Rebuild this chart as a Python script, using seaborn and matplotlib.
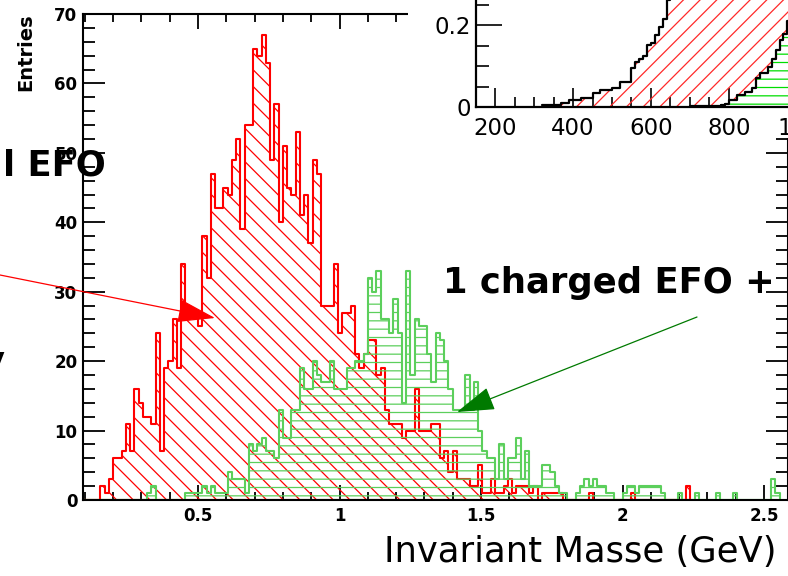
import numpy as np
import matplotlib
matplotlib.use("Agg")
import matplotlib.pyplot as plt
from matplotlib.patches import Rectangle
from matplotlib.ticker import MultipleLocator
import seaborn as sns

# main histogram, 15 MeV bins starting at 0.095 GeV
BIN_START = 0.095
BIN_WIDTH = 0.015

red_counts = [
    0, 0, 0, 0, 2, 1, 3, 6, 6, 7,
    11, 7, 16, 14, 12, 12, 11, 24, 7, 19,
    20, 26, 19, 34, 26, 27, 27, 25, 38, 32,
    47, 42, 42, 45, 44, 49, 52, 39, 54, 54,
    65, 64, 67, 63, 49, 57, 40, 51, 45, 44,
    53, 41, 44, 37, 49, 47, 28, 28, 28, 34,
    24, 27, 27, 28, 21, 19, 21, 23, 23, 18,
    19, 13, 11, 11, 11, 9, 10, 10, 16, 10,
    10, 10, 11, 11, 6, 7, 4, 7, 3, 3,
    3, 2, 2, 5, 1, 1, 3, 1, 1, 2,
    3, 1, 2, 2, 2, 1, 2, 0, 1, 1,
    1, 1, 1, 0, 0, 0, 0, 0, 0, 1,
    0, 0, 0, 0, 0, 0, 0, 0, 0, 1,
    0, 0, 0, 0, 0, 0, 0, 0, 0, 0,
    0, 0, 2,
]

green_counts = [
    0, 0, 0, 0, 0, 0, 0, 0, 0, 0,
    0, 0, 0, 0, 0, 1, 2, 0, 0, 0,
    0, 0, 0, 0, 1, 1, 1, 1, 2, 1,
    2, 1, 1, 1, 4, 3, 3, 3, 1, 8,
    7, 8, 9, 7, 7, 6, 13, 9, 9, 13,
    13, 19, 16, 16, 20, 18, 17, 17, 20, 16,
    16, 16, 19, 19, 20, 20, 21, 32, 30, 33,
    26, 26, 24, 29, 24, 14, 33, 18, 26, 25,
    25, 21, 17, 24, 23, 20, 16, 13, 13, 13,
    18, 13, 17, 10, 7, 6, 6, 3, 8, 3,
    6, 6, 9, 3, 7, 2, 2, 2, 5, 5,
    4, 2, 1, 1, 0, 0, 1, 2, 3, 2,
    3, 2, 2, 1, 1, 0, 0, 1, 2, 2,
    1, 2, 2, 2, 2, 2, 1, 0, 0, 0,
    1, 0, 0, 0, 1, 0, 0, 0, 0, 1,
    0, 0, 0, 1, 0, 0, 0, 0, 0, 0,
    0, 0, 3, 1,
]

mass_ticks = [0.5, 1, 1.5, 2, 2.5]
mass_labels = ["0.5", "1", "1.5", "2", "2.5"]
entry_ticks = [0, 10, 20, 30, 40, 50, 60, 70]
entry_labels = ["0", "10", "20", "30", "40", "50", "60", "70"]

# inset (mass in MeV)
inset_red_edges = [320, 330, 340, 350, 360, 370, 380, 390, 400, 410,
                   420, 430, 440, 450, 460, 470, 480, 490, 500, 510,
                   520, 530, 540, 550, 560, 570, 580, 590, 600, 610,
                   620, 630, 640, 650, 660, 670, 1090]
inset_red = [0.004, 0.004, 0.004, 0.005, 0.006, 0.009, 0.009, 0.017, 0.017, 0.017,
             0.023, 0.023, 0.023, 0.033, 0.033, 0.041, 0.041, 0.041, 0.047, 0.047,
             0.061, 0.061, 0.061, 0.095, 0.110, 0.118, 0.125, 0.151, 0.155, 0.175,
             0.195, 0.215, 0.260, 0.300, 0.330, 0.400]
inset_green_edges = [700, 710, 720, 730, 740, 750, 760, 770, 780, 790,
                     800, 810, 820, 830, 840, 850, 860, 870, 880, 890,
                     900, 910, 920, 930, 940, 950, 960, 1090]
inset_green = [0.002, 0.002, 0.002, 0.002, 0.002, 0.002, 0.002, 0.003, 0.004, 0.008,
               0.018, 0.018, 0.029, 0.029, 0.037, 0.037, 0.047, 0.070, 0.082, 0.082,
               0.098, 0.118, 0.139, 0.163, 0.179, 0.210, 0.250]
inset_xticks = [200, 400, 600, 800, 1000]
inset_xlabels = ["200", "400", "600", "800", "1000"]
inset_yticks = [0, 0.2]
inset_ylabels = ["0", "0.2"]

W, H = 788, 576


def fx(px):
    return px / W


def fy(py):
    return 1 - py / H


def step_hist(axis, edges, values, **kws):
    edges = np.asarray(edges, dtype=float)
    mids = (edges[:-1] + edges[1:]) / 2
    sns.histplot(x=list(mids), weights=list(values), bins=list(edges),
                 element="step", ax=axis, **kws)


sns.set_style("ticks")
plt.rcParams["font.family"] = ["DejaVu Sans"]
plt.rcParams["hatch.linewidth"] = 0.9
plt.rcParams["text.color"] = "black"
plt.rcParams["xtick.labelcolor"] = "black"
plt.rcParams["ytick.labelcolor"] = "black"

fig = plt.figure(figsize=(W / 100, H / 100), dpi=100)
fig.patch.set_facecolor("white")

# ---- main plot
ax = fig.add_axes([fx(83), fy(500), (787.5 - 83) / W, (500 - 14) / H])
red_edges = BIN_START + BIN_WIDTH * np.arange(len(red_counts) + 1)
green_edges = BIN_START + BIN_WIDTH * np.arange(len(green_counts) + 1)
step_hist(ax, red_edges, red_counts, fill=True, color="#ff0000", facecolor="none",
          edgecolor="#ff0000", hatch="\\\\", linewidth=1.5)
step_hist(ax, green_edges, green_counts, fill=True, color="#5ccf5c", facecolor="none",
          edgecolor="#5ccf5c", hatch="--", linewidth=1.5)

ax.set_xlim(0.0936, 2.583)
ax.set_ylim(0, 70)
ax.set_xlabel("")
ax.set_ylabel("")
ax.set_xticks(mass_ticks, labels=mass_labels, fontsize=12, fontweight="bold",
              color="black")
ax.set_yticks(entry_ticks, labels=entry_labels, fontsize=12, fontweight="bold",
              color="black")
ax.xaxis.set_minor_locator(MultipleLocator(0.1))
ax.yaxis.set_minor_locator(MultipleLocator(2))
ax.tick_params(which="both", direction="in", top=True, right=True,
               color="black", width=1.3)
ax.tick_params(axis="x", which="major", length=11, pad=5)
ax.tick_params(axis="x", which="minor", length=6)
ax.tick_params(axis="y", which="major", length=16, pad=4)
ax.tick_params(axis="y", which="minor", length=8.5)
for sp in ax.spines.values():
    sp.set_color("black")
    sp.set_linewidth(1.5)

# arrows
ax.annotate("", xy=(215, H - 318), xycoords="figure pixels",
            xytext=(0, H - 275), textcoords="figure pixels",
            arrowprops=dict(arrowstyle="-|>,head_length=2.4,head_width=0.75",
                            color="#ff0000", lw=0.9, mutation_scale=10,
                            shrinkA=0, shrinkB=0))
ax.annotate("", xy=(457, H - 412), xycoords="figure pixels",
            xytext=(697, H - 317), textcoords="figure pixels",
            arrowprops=dict(arrowstyle="-|>,head_length=2.4,head_width=0.75",
                            color="#007a00", lw=0.9, mutation_scale=10,
                            shrinkA=0, shrinkB=0))

# ---- inset pad
fig.add_artist(Rectangle((fx(408), fy(138)), 1 - fx(408), 138 / H,
                         transform=fig.transFigure, facecolor="white",
                         edgecolor="none", zorder=1.5))
axin = fig.add_axes([fx(476), fy(107), (840 - 476) / W, 127 / H], zorder=2)
axin.set_facecolor("white")
step_hist(axin, inset_red_edges, inset_red, fill=True, color="#ff2a2a", facecolor="none",
          edgecolor="#ff2a2a", hatch="//", linewidth=0)
step_hist(axin, inset_red_edges, inset_red, fill=False, color="black", linewidth=1.6)
step_hist(axin, inset_green_edges, inset_green, fill=True, color="#00dd00", facecolor="white",
          edgecolor="#00dd00", hatch="--", linewidth=0)
step_hist(axin, inset_green_edges, inset_green, fill=False, color="black", linewidth=1.6)
axin.set_xlim(151, 1085)
axin.set_ylim(0, 0.31)
axin.set_xlabel("")
axin.set_ylabel("")
axin.set_xticks(inset_xticks, labels=inset_xlabels, fontsize=16.5, color="black")
axin.set_yticks(inset_yticks, labels=inset_ylabels, fontsize=16.5, color="black")
axin.xaxis.set_minor_locator(MultipleLocator(50))
axin.yaxis.set_minor_locator(MultipleLocator(0.05))
axin.tick_params(which="both", direction="in", color="black", width=1.2)
axin.tick_params(axis="x", which="major", length=13.5, pad=7)
axin.tick_params(axis="x", which="minor", length=7)
axin.tick_params(axis="y", which="major", length=19, pad=3.5)
axin.tick_params(axis="y", which="minor", length=9.5)
for sp in axin.spines.values():
    sp.set_color("black")
    sp.set_linewidth(1.6)

# ---- texts
fig.text(fx(26), fy(52), "Entries", rotation=90, ha="center", va="center",
         fontsize=14, fontweight="bold", color="black")
fig.text(fx(777), fy(562), "Invariant Masse (GeV)", ha="right", va="baseline",
         fontsize=25.5, color="black")
fig.text(fx(443), fy(293), "1 charged EFO +", ha="left", va="baseline",
         fontsize=25.5, fontweight="bold", color="black")
fig.text(fx(106), fy(175), "l EFO", ha="right", va="baseline",
         fontsize=25.5, fontweight="bold", color="black")
fig.text(fx(5), fy(372), "y", ha="right", va="baseline",
         fontsize=25.5, fontweight="bold", color="black")

fig.savefig("out.png", dpi=100)
